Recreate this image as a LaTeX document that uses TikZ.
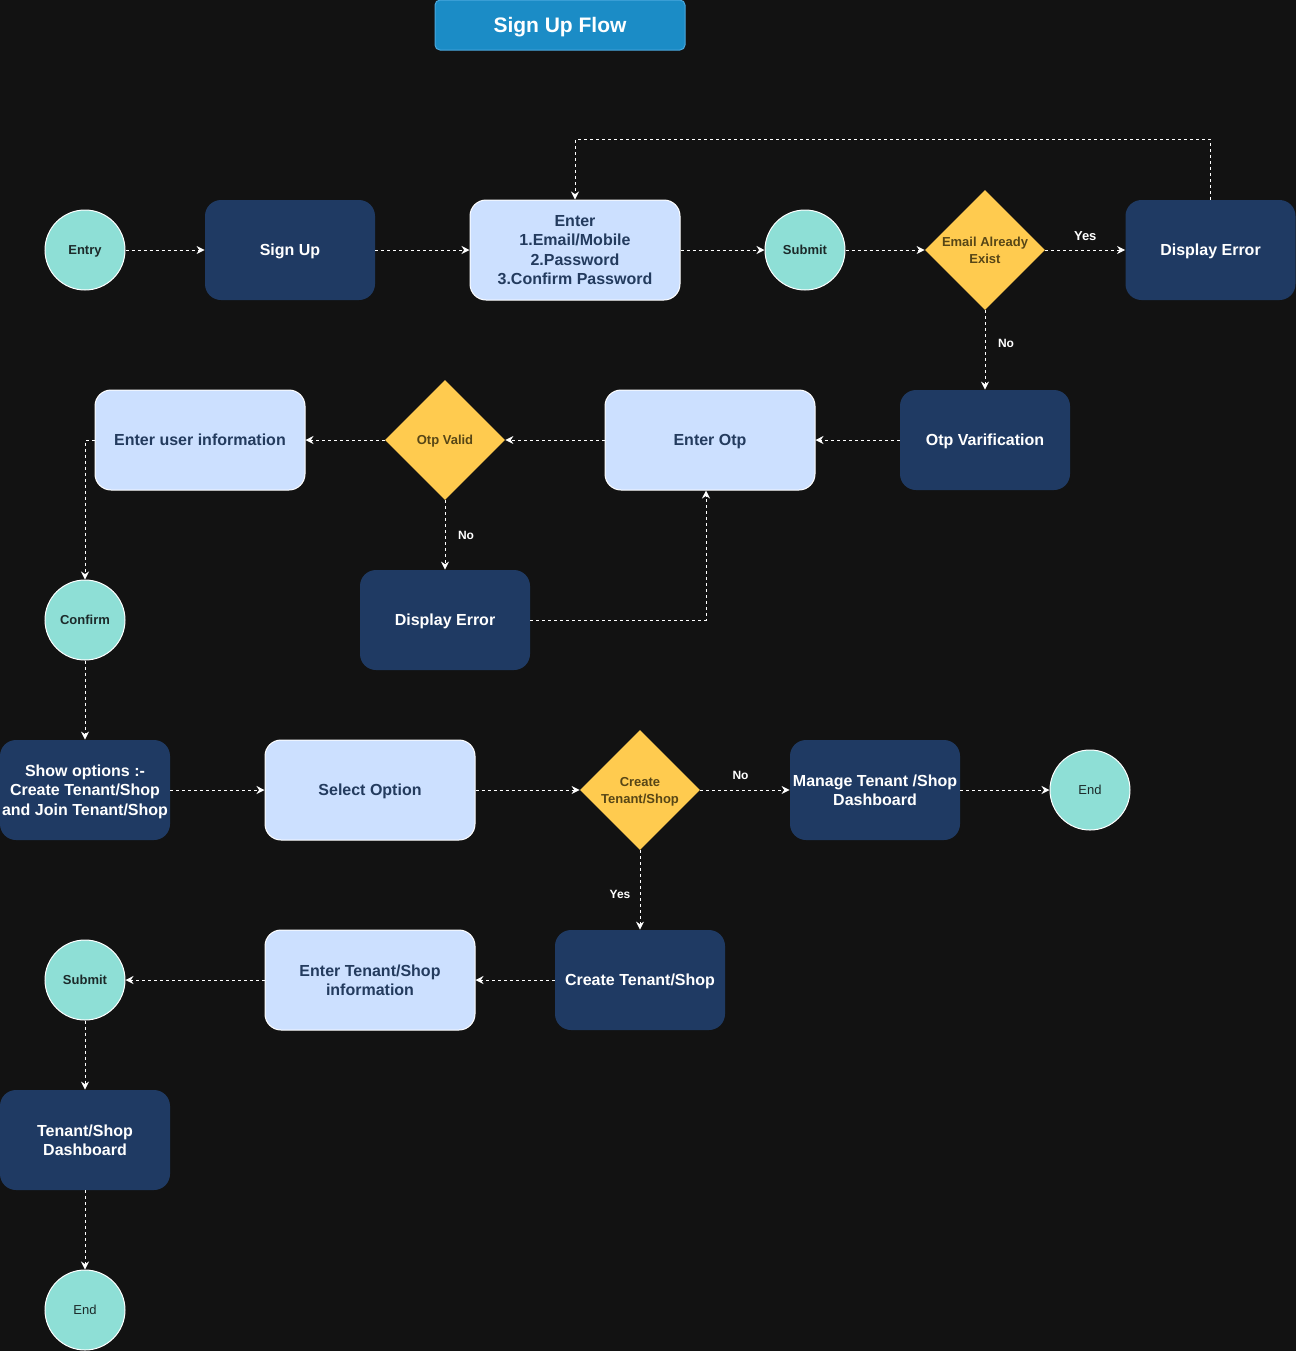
\documentclass[tikz,border=0pt]{standalone}
\usepackage{fontspec}
\setmainfont{Liberation Sans}
\usetikzlibrary{shapes.geometric,arrows.meta,calc}

\definecolor{bg}{HTML}{121212}
\definecolor{navy}{HTML}{1F3A63}
\definecolor{pale}{HTML}{CCE0FF}
\definecolor{paletext}{HTML}{233B5E}
\definecolor{mint}{HTML}{8EDFD6}
\definecolor{termtext}{HTML}{1C2A2A}
\definecolor{gold}{HTML}{FFCB4F}
\definecolor{goldtext}{HTML}{574616}
\definecolor{titlefill}{HTML}{1B8CC6}
\definecolor{titleedge}{HTML}{4AA8DE}

\tikzset{
  darkbox/.style={rectangle, rounded corners=8pt, fill=navy, text=white,
    minimum width=85pt, minimum height=50pt, align=center, inner sep=0pt,
    text depth=0pt, font=\fontsize{8}{9.75}\selectfont\bfseries},
  palebox/.style={rectangle, rounded corners=8pt, fill=pale, draw=white,
    line width=0.5pt, text=paletext, minimum width=105pt, minimum height=50pt,
    align=center, inner sep=0pt, text depth=0pt,
    font=\fontsize{8}{9.75}\selectfont\bfseries},
  term/.style={circle, fill=mint, draw=white, line width=0.5pt,
    minimum size=40pt, inner sep=0pt, text=termtext, text depth=0pt,
    font=\fontsize{6.5}{8}\selectfont\bfseries},
  termplain/.style={term, font=\fontsize{6.5}{8}\selectfont},
  decision/.style={diamond, fill=gold, minimum width=60pt, minimum height=60pt,
    aspect=1, inner sep=0pt, text=goldtext, align=center, text depth=0pt,
    font=\fontsize{6.5}{8.5}\selectfont\bfseries},
  conn/.style={draw=white, line width=0.5pt, dash pattern=on 1.5pt off 1.5pt,
    -{Stealth[length=4pt,width=4pt,inset=1.3pt]}},
  lbl/.style={text=white, inner sep=0pt, font=\fontsize{6}{7}\selectfont\bfseries},
}

\begin{document}
\begin{tikzpicture}[x=0.5pt,y=-0.5pt]
  \fill[bg] (0,0) rectangle (1296,1351);
  \useasboundingbox (0,0) rectangle (1296,1351);

  % heading
  \node[rectangle, rounded corners=2.5pt, fill=titlefill, draw=titleedge,
        line width=0.5pt, minimum width=125pt, minimum height=25pt, text=white,
        text depth=0pt, font=\fontsize{10.5}{12}\selectfont\bfseries]
        (title) at (560,25) {Sign Up Flow};

  % row 1: credentials
  \node[term]     (entry)   at (85,250)     {Entry};
  \node[darkbox]  (signup)  at (290,250)    {Sign Up};
  \node[palebox]  (creds)   at (575,250)    {Enter\\1.Email/Mobile\\2.Password\\3.Confirm Password};
  \node[term]     (submit1) at (805,250)    {Submit};
  \node[decision] (exists)  at (985,250)    {Email Already\\Exist};
  \node[darkbox]  (err1)    at (1210.5,250) {Display Error};

  % row 2: otp
  \node[darkbox]  (otpver)  at (985,440) {Otp Varification};
  \node[palebox]  (otp)     at (710,440) {Enter Otp};
  \node[decision] (otpok)   at (445,440) {Otp Valid};
  \node[palebox]  (user)    at (200,440) {Enter user information};
  \node[darkbox]  (err2)    at (445,620) {Display Error};
  \node[term]     (confirm) at (85,620)  {Confirm};

  % row 3: tenant choice
  \node[darkbox]  (options) at (85,790)   {Show options :-\\Create Tenant/Shop\\and Join Tenant/Shop};
  \node[palebox]  (select)  at (370,790)  {Select Option};
  \node[decision] (create)  at (640,790)  {Create\\Tenant/Shop};
  \node[darkbox]  (manage)  at (875,790)  {Manage Tenant /Shop\\Dashboard};
  \node[termplain] (end1)   at (1090,790) {End};

  % row 4: new tenant
  \node[darkbox]  (newshop) at (640,980)  {Create Tenant/Shop};
  \node[palebox]  (shopinfo) at (370,980) {Enter Tenant/Shop\\information};
  \node[term]     (submit2) at (85,980)   {Submit};
  \node[darkbox]  (dash)    at (85,1140)  {Tenant/Shop\\Dashboard};
  \node[termplain] (end2)   at (85,1310)  {End};

  % connectors
  \draw[conn] (entry) -- (signup);
  \draw[conn] (signup) -- (creds);
  \draw[conn] (creds) -- (submit1);
  \draw[conn] (submit1) -- (exists);
  \draw[conn] (exists.east) -- node[lbl, midway, yshift=7pt, font=\fontsize{6.5}{7}\selectfont\bfseries] {Yes} (err1.west);
  \draw[conn] (err1.north) -- ++(0,-60) -| (creds.north);
  \draw[conn] (exists.south) -- node[lbl, pos=0.42, xshift=10.5pt] {No} (otpver.north);

  \draw[conn] (otpver) -- (otp);
  \draw[conn] (otp) -- (otpok);
  \draw[conn] (otpok.west) -- (user.east);
  \draw[conn] (otpok.south) -- node[lbl, midway, xshift=10.5pt] {No} (err2.north);
  \draw[conn] (err2.east) -| ([xshift=-2pt]otp.south);
  \draw[conn] (user.west) -| (confirm.north);
  \draw[conn] (confirm) -- (options);

  \draw[conn] (options) -- (select);
  \draw[conn] (select) -- (create.west);
  \draw[conn] (create.east) -- node[lbl, pos=0.45, yshift=7.5pt] {No} (manage.west);
  \draw[conn] (manage) -- (end1);
  \draw[conn] (create.south) -- node[lbl, pos=0.56, xshift=-10pt] {Yes} (newshop.north);

  \draw[conn] (newshop) -- (shopinfo);
  \draw[conn] (shopinfo) -- (submit2);
  \draw[conn] (submit2) -- (dash);
  \draw[conn] (dash) -- (end2);
\end{tikzpicture}
\end{document}
